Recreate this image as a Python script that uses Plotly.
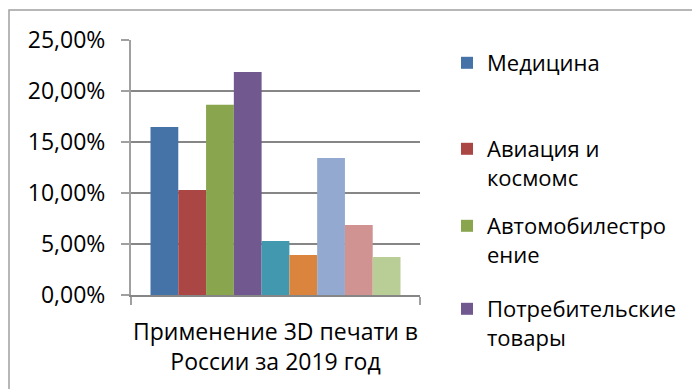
import plotly.graph_objects as go

# Data (share of 3D printing use by industry)
category = ["Применение 3D печати в<br>России за 2019 год"]
series_names = [
    "Медицина",
    "Авиация и<br>космомс",
    "Автомобилестро<br>ение",
    "Потребительские<br>товары",
    "Энергетика",
    "Промышленность",
    "Образование",
    "Архитектура",
    "Прочее",
]
series_values = [0.1647, 0.1029, 0.1866, 0.2186, 0.0529, 0.0392, 0.1343, 0.0686, 0.0373]
series_colors = [
    "#4572A7", "#AA4643", "#89A54E", "#71588F", "#4198AF",
    "#DB843D", "#93A9CF", "#D19392", "#B9CD96",
]
# only the first four entries fit into the legend of the original chart
legend_ids = ["legend", "legend2", "legend3", "legend4"]

FONT = "Open Sans"
GRID = "#868686"

fig = go.Figure()

for i, (name, val, color) in enumerate(zip(series_names, series_values, series_colors)):
    show = i < len(legend_ids)
    fig.add_trace(go.Bar(
        x=category,
        y=[val],
        name=name,
        marker_color=color,
        marker_line_width=0,
        showlegend=show,
        legend=legend_ids[i] if show else None,
    ))

# the page body adds an 8px offset, so the figure is 8px smaller and the
# plot area (131..420 x 40..295 in the screenshot) sits at 123..412 x 32..287
def px_x(p):
    return (p - 131) / 289.0

def px_y(p):
    return (295 - p) / 255.0

legend_tops = [42, 128, 205, 288]
legend_style = dict(
    font=dict(family=FONT, size=22, color="black"),
    bgcolor="rgba(0,0,0,0)",
    xanchor="left",
    yanchor="top",
    valign="top",
    itemclick=False,
)
layout_legends = {}
for lid, top in zip(legend_ids, legend_tops):
    layout_legends[lid] = dict(legend_style, x=px_x(447), y=px_y(top))

fig.update_layout(
    width=692,
    height=381,
    margin=dict(l=123, r=280, t=32, b=94, autoexpand=False),
    paper_bgcolor="white",
    plot_bgcolor="white",
    separators=", ",
    barmode="group",
    bargap=0.135,
    bargroupgap=0,
    font=dict(family=FONT, size=22, color="black"),
    xaxis=dict(
        type="category",
        showline=True,
        linecolor=GRID,
        linewidth=2,
        ticks="outside",
        tickson="boundaries",
        ticklen=8,
        tickcolor="#a0a0a0",
        tickwidth=2,
        tickangle=0,
        ticklabelstandoff=15,
        tickfont=dict(family=FONT, size=23, color="black"),
        showgrid=False,
    ),
    yaxis=dict(
        range=[0, 0.25],
        dtick=0.05,
        tickformat=".2%",
        showgrid=True,
        gridcolor=GRID,
        gridwidth=2,
        zeroline=False,
        showline=True,
        linecolor="#a0a0a0",
        linewidth=2,
        ticks="outside",
        ticklen=8,
        tickcolor="#a0a0a0",
        tickwidth=2,
        ticklabelstandoff=11,
        tickfont=dict(family=FONT, size=23, color="black"),
    ),
    shapes=[
        # chart frame, cut off at the right and bottom in the original
        dict(type="rect", xref="paper", yref="paper",
             x0=px_x(9), x1=px_x(760), y0=px_y(450), y1=px_y(10),
             line=dict(color="#a0a0a0", width=1.5), fillcolor="rgba(0,0,0,0)",
             layer="below"),
    ],
    **layout_legends,
)

fig.write_html("out.html")
